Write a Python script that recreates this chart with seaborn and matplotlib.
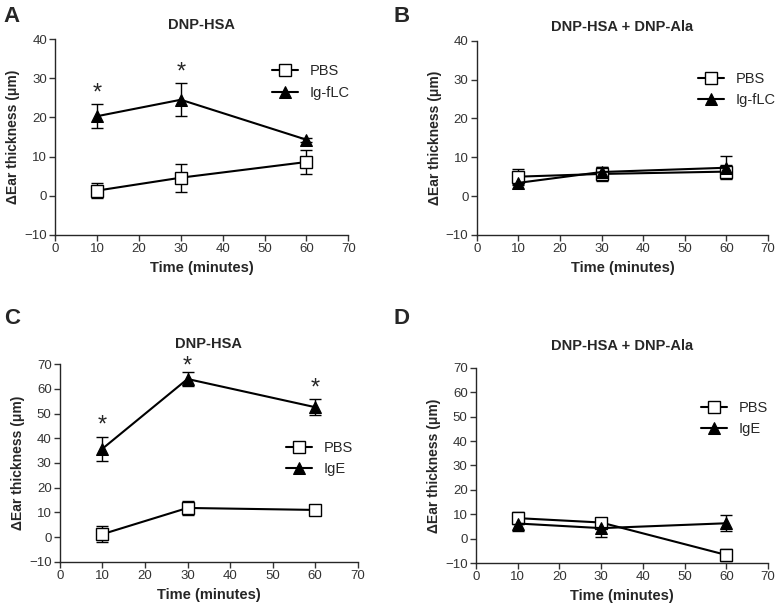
import pandas as pd
import matplotlib.pyplot as plt
import numpy as np
import seaborn as sns

sns.set_style('ticks')
plt.rcParams['font.family'] = ['Liberation Sans', 'DejaVu Sans']
plt.rcParams['axes.linewidth'] = 1.0

times = [10, 30, 60]

# panel A
a_pbs = [1.3, 4.6, 8.6]
a_pbs_err = [2.0, 3.6, 3.0]
a_flc = [20.3, 24.5, 14.3]
a_flc_err = [3.0, 4.2, 0.5]

# panel B
b_pbs = [5.0, 5.7, 6.3]
b_pbs_err = [2.0, 1.8, 1.7]
b_flc = [3.4, 6.2, 7.3]
b_flc_err = [0.5, 1.3, 2.9]

# panel C
c_pbs = [1.2, 11.8, 11.0]
c_pbs_err = [3.2, 3.0, 1.8]
c_ige = [35.8, 64.0, 52.6]
c_ige_err = [4.8, 2.7, 3.2]

# panel D
d_pbs = [8.4, 6.6, -6.7]
d_pbs_err = [2.4, 1.0, 2.5]
d_ige = [6.2, 4.3, 6.3]
d_ige_err = [2.9, 3.5, 3.2]

panels = [
    ('A', 'DNP-HSA', 'Ig-fLC', a_pbs, a_pbs_err, a_flc, a_flc_err, (-10, 40),
     [(10, 0), (30, 1)], (0.72, 0.90), 7),
    ('B', 'DNP-HSA + DNP-Ala', 'Ig-fLC', b_pbs, b_pbs_err, b_flc, b_flc_err, (-10, 40),
     [], (0.74, 0.87), 7),
    ('C', 'DNP-HSA', 'IgE', c_pbs, c_pbs_err, c_ige, c_ige_err, (-10, 70),
     [(10, 0), (30, 1), (60, 2)], (0.74, 0.64), 12),
    ('D', 'DNP-HSA + DNP-Ala', 'IgE', d_pbs, d_pbs_err, d_ige, d_ige_err, (-10, 70),
     [], (0.75, 0.86), 13),
]

rects = [
    [0.071, 0.615, 0.376, 0.321],
    [0.612, 0.615, 0.374, 0.318],
    [0.077, 0.079, 0.382, 0.324],
    [0.611, 0.077, 0.375, 0.320],
]
letter_pos = [(0.005, 0.99), (0.505, 0.99), (0.005, 0.495), (0.505, 0.495)]

fig = plt.figure(figsize=(7.79, 6.1), dpi=100)

for i, (letter, title, name, pbs, pbs_err, trt, trt_err, ylim, stars, leg, tpad) in enumerate(panels):
    ax = fig.add_axes(rects[i])
    df_pbs = pd.DataFrame({'time': times, 'val': pbs})
    df_trt = pd.DataFrame({'time': times, 'val': trt})

    ax.errorbar(times, pbs, yerr=pbs_err, fmt='none', ecolor='black',
                elinewidth=1, capsize=4, capthick=1, zorder=1)
    ax.errorbar(times, trt, yerr=trt_err, fmt='none', ecolor='black',
                elinewidth=1, capsize=4, capthick=1, zorder=1)
    sns.lineplot(data=df_pbs, x='time', y='val', ax=ax, color='black', marker='s',
                 markersize=8, markerfacecolor='white', markeredgecolor='black',
                 markeredgewidth=1, linewidth=1.5, errorbar=None, label='PBS', zorder=3)
    sns.lineplot(data=df_trt, x='time', y='val', ax=ax, color='black', marker='^',
                 markersize=8, markerfacecolor='black', markeredgecolor='black',
                 linewidth=1.5, errorbar=None, label=name, zorder=3)

    # significance stars just above the error bar
    unit = (ylim[1] - ylim[0]) / (rects[i][3] * 610)
    for t, k in stars:
        ys = min(trt[k] + trt_err[k] + 11 * unit, ylim[1] - 2 * unit)
        ax.text(t, ys, '*', ha='center', va='center', fontsize=17)

    ax.set_xlim(0, 70)
    ax.set_ylim(*ylim)
    ax.set_xticks(np.arange(0, 71, 10))
    ax.set_yticks(np.arange(ylim[0], ylim[1] + 1, 10))
    ax.tick_params(labelsize=9.5, length=4, width=1, pad=2, colors='#333333')
    ax.set_xlabel('Time (minutes)', fontsize=10.5, fontweight='bold', labelpad=4)
    ax.set_ylabel('ΔEar thickness (μm)', fontsize=10, fontweight='bold', labelpad=3)
    ax.set_title(title, fontsize=10.5, fontweight='bold', pad=tpad)
    sns.despine(ax=ax)
    ax.legend(loc='upper left', bbox_to_anchor=leg, frameon=False, fontsize=10.5,
              handlelength=1.8, handletextpad=0.8, labelspacing=0.5, borderaxespad=0)
    fig.text(letter_pos[i][0], letter_pos[i][1], letter, fontsize=16,
             fontweight='bold', va='top', ha='left')

fig.savefig('out.png', dpi=100)
